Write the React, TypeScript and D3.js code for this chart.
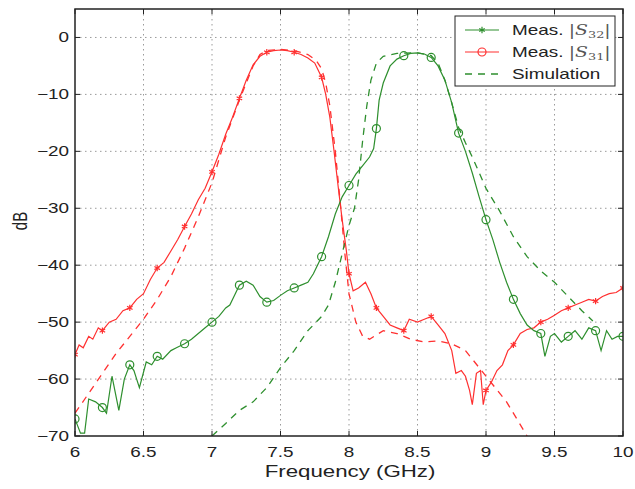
import React from "react";
import * as d3 from "d3";

const xTicks = [6, 6.5, 7, 7.5, 8, 8.5, 9, 9.5, 10];
const yTicks = [0, -10, -20, -30, -40, -50, -60, -70];

const markerFreqs = [6, 6.2, 6.4, 6.6, 6.8, 7, 7.2, 7.4, 7.6, 7.8, 8, 8.2, 8.4, 8.6, 8.8, 9, 9.2, 9.4, 9.6, 9.8, 10];

const s32Freq = [6.0, 6.04, 6.07, 6.1, 6.15, 6.2, 6.23, 6.27, 6.32, 6.36, 6.4, 6.43, 6.47, 6.52, 6.56, 6.6, 6.64, 6.7, 6.74, 6.8, 6.85, 6.9, 6.95, 7.0, 7.05, 7.1, 7.13, 7.17, 7.2, 7.25, 7.3, 7.35, 7.4, 7.45, 7.5, 7.55, 7.6, 7.65, 7.7, 7.74, 7.8, 7.85, 7.9, 7.95, 8.0, 8.05, 8.1, 8.15, 8.18, 8.2, 8.22, 8.25, 8.3, 8.35, 8.4, 8.45, 8.5, 8.55, 8.6, 8.65, 8.7, 8.75, 8.8, 8.85, 8.9, 8.95, 9.0, 9.05, 9.1, 9.15, 9.2, 9.25, 9.3, 9.35, 9.4, 9.43, 9.47, 9.5, 9.55, 9.6, 9.65, 9.7, 9.75, 9.8, 9.84, 9.88, 9.92, 9.96, 10.0];
const s32dB = [-67, -69.5, -69.5, -63.5, -64, -65, -66, -59.5, -65.5, -60, -57.5, -58.5, -61.5, -57, -57.5, -56, -56.5, -55, -54.5, -53.8, -53, -52, -51, -50, -49, -47.5, -47, -45, -43.5, -42.8, -43.5, -45.5, -46.5, -46.2, -45.3, -44.5, -44, -43.5, -43, -41.5, -38.5, -35, -31, -28, -26, -24, -22.5, -21, -19.5, -16, -11, -8, -5, -3.8, -3.2, -2.8, -2.7, -2.9, -3.5, -5, -7.5, -11.5, -16.8, -20, -23.8, -28, -32, -35.5, -39.5, -43, -46, -48.5, -50.5, -51.5, -52, -56, -52.5, -52, -53.5, -52.5, -51.5, -53, -51, -51.5, -55, -51.5, -53, -52.5, -52.5];

const s31Freq = [6.0, 6.03, 6.06, 6.1, 6.13, 6.17, 6.2, 6.25, 6.3, 6.35, 6.4, 6.45, 6.5, 6.55, 6.6, 6.65, 6.7, 6.75, 6.8, 6.85, 6.9, 6.95, 7.0, 7.05, 7.1, 7.15, 7.2, 7.25, 7.3, 7.35, 7.4, 7.45, 7.5, 7.55, 7.6, 7.65, 7.7, 7.75, 7.8, 7.83, 7.86, 7.89, 7.92, 7.95, 7.98, 8.0, 8.03, 8.07, 8.12, 8.16, 8.2, 8.25, 8.3, 8.35, 8.4, 8.44, 8.5, 8.55, 8.6, 8.65, 8.7, 8.75, 8.78, 8.82, 8.85, 8.88, 8.9, 8.93, 8.96, 8.98, 9.0, 9.04, 9.08, 9.12, 9.16, 9.2, 9.25, 9.3, 9.35, 9.4, 9.45, 9.5, 9.55, 9.6, 9.65, 9.7, 9.75, 9.8, 9.85, 9.9, 9.95, 10.0];
const s31dB = [-55.7, -54, -54.5, -52.5, -53, -51, -51.5, -50, -49.5, -48, -47.5, -46, -45, -42.5, -40.5, -39.5, -37.5, -35.5, -33.2, -31, -28.5, -26.5, -23.6, -20.5, -17, -14, -10.7, -7.5, -4.8, -3.3, -2.6, -2.3, -2.2, -2.3, -2.6, -3, -3.6, -4.5, -7, -10, -14, -19.8, -26, -32, -37.3, -41.5, -44.5, -44, -43, -45, -47.5, -49, -50.5, -51, -51.5, -49.5, -50, -49.5, -49, -50.5, -52, -55, -59, -58.5, -59.5, -62, -64.5, -59, -58.5, -64.5, -62, -60.5, -58.5, -57.5, -55, -54, -52, -51.3, -51, -50, -49.5, -48.8, -48, -47.5, -47, -46.5, -46, -46.3, -45.5, -45, -44.8, -44];

const simS31Freq = [6.0, 6.1, 6.2, 6.3, 6.4, 6.5, 6.6, 6.7, 6.8, 6.9, 7.0, 7.1, 7.2, 7.3, 7.35, 7.4, 7.5, 7.6, 7.7, 7.76, 7.8, 7.83, 7.86, 7.9, 7.94, 7.97, 8.0, 8.05, 8.1, 8.15, 8.25, 8.35, 8.45, 8.55, 8.65, 8.75, 8.85, 8.95, 9.05, 9.15, 9.25, 9.3];
const simS31dB = [-66, -62.5, -59, -55.5, -52.5, -49.5, -46, -42, -37, -31.5, -25.5, -17.5, -11, -5, -3, -2.3, -2.1, -2.3, -3, -4, -5.5, -8, -12, -20, -30, -38, -45, -50, -52.5, -53, -51.5, -52, -53, -53.5, -53.3, -53.8, -55, -58, -61, -64, -68, -70];

const simS32Freq = [7.0, 7.1, 7.2, 7.3, 7.4, 7.5, 7.6, 7.7, 7.8, 7.85, 7.9, 7.95, 8.0, 8.04, 8.07, 8.1, 8.13, 8.16, 8.2, 8.25, 8.35, 8.5, 8.6, 8.65, 8.7, 8.75, 8.8, 8.85, 8.9, 9.0, 9.1, 9.2, 9.3, 9.4, 9.5, 9.6, 9.7, 9.78];
const simS32dB = [-70, -67.8, -65.5, -64, -61.5, -58, -55, -51.5, -49, -47, -43, -38, -33, -30, -25, -18, -12, -7.5, -4.5, -3.3, -2.8, -2.7, -3.2, -4.5, -7.5, -11.5, -15.8, -18.5, -21, -26.5, -30.5, -35, -38.5, -41, -43, -45.5, -48, -49.8];

const GREEN = "#2e8f2e";
const RED = "#ff3030";
const FONT = "'Liberation Sans', Arial, Helvetica, sans-serif";
const SX = 1.35; // horizontal stretch of the original figure's text

const W = 635, H = 489;
const L = 75, R = 623, T = 9, B = 436;

function T2(props: { x: number; y: number; anchor?: string; size: number; children: React.ReactNode; fill?: string }) {
  return (
    <text
      transform={`translate(${props.x},${props.y}) scale(${SX},1)`}
      textAnchor={props.anchor || "start"}
      fontSize={props.size}
      fontFamily={FONT}
      fill={props.fill || "#222"}
    >
      {props.children}
    </text>
  );
}

export default function App() {
  const x = d3.scaleLinear().domain([6, 10]).range([L, R]);
  const y = d3.scaleLinear().domain([-70, 5]).range([B, T]);
  const line = d3.line<[number, number]>().x(d => x(d[0])).y(d => y(d[1]));
  const zip = (a: number[], b: number[]) => a.map((v, i) => [v, b[i]] as [number, number]);
  const s32 = zip(s32Freq, s32dB);
  const s31 = zip(s31Freq, s31dB);
  const sim31 = zip(simS31Freq, simS31dB);
  const sim32 = zip(simS32Freq, simS32dB);
  const markersOf = (pts: [number, number][]) =>
    pts.filter(p => markerFreqs.some(m => Math.abs(m - p[0]) < 1e-6));
  const star = d3.symbol().type(d3.symbolAsterisk).size(28)();

  return (
    <svg width={W} height={H} style={{ position: "absolute", left: 0, top: 0 }}>
      <rect x={0} y={0} width={W} height={H} fill="#fff" />
      <defs>
        <clipPath id="clip">
          <rect x={L} y={T} width={R - L} height={B - T} />
        </clipPath>
      </defs>
      {xTicks.slice(1, -1).map(t => (
        <line key={"gx" + t} x1={x(t)} x2={x(t)} y1={T} y2={B} stroke="#9a9a9a" strokeWidth={1} strokeDasharray="1.5,3.5" />
      ))}
      {yTicks.slice(0, -1).map(t => (
        <line key={"gy" + t} x1={L} x2={R} y1={y(t)} y2={y(t)} stroke="#9a9a9a" strokeWidth={1} strokeDasharray="1.5,3.5" />
      ))}
      <g clipPath="url(#clip)">
        <path d={line(sim31) || ""} fill="none" stroke={RED} strokeWidth={1.3} strokeDasharray="7,6" />
        <path d={line(sim32) || ""} fill="none" stroke={GREEN} strokeWidth={1.3} strokeDasharray="7,6" />
        <path d={line(s31) || ""} fill="none" stroke={RED} strokeWidth={1.2} />
        <path d={line(s32) || ""} fill="none" stroke={GREEN} strokeWidth={1.2} />
        {markersOf(s31).map((p, i) => (
          <path key={"m31" + i} d={star || ""} transform={`translate(${x(p[0])},${y(p[1])})`} fill="none" stroke={RED} strokeWidth={1.2} />
        ))}
        {markersOf(s32).map((p, i) => (
          <circle key={"m32" + i} cx={x(p[0])} cy={y(p[1])} r={4} fill="none" stroke={GREEN} strokeWidth={1.2} />
        ))}
      </g>
      <rect x={L} y={T} width={R - L} height={B - T} fill="none" stroke="#222" strokeWidth={1.5} />
      {xTicks.map(t => (
        <g key={"xt" + t}>
          <line x1={x(t)} x2={x(t)} y1={B} y2={B - 5} stroke="#222" />
          <line x1={x(t)} x2={x(t)} y1={T} y2={T + 5} stroke="#222" />
          <T2 x={x(t)} y={457} anchor="middle" size={14}>{t}</T2>
        </g>
      ))}
      {yTicks.map(t => (
        <g key={"yt" + t}>
          <line x1={L} x2={L + 5} y1={y(t)} y2={y(t)} stroke="#222" />
          <line x1={R} x2={R - 5} y1={y(t)} y2={y(t)} stroke="#222" />
          <T2 x={69} y={y(t) + 5} anchor="end" size={14}>{t < 0 ? "\u2212" + Math.abs(t) : String(t)}</T2>
        </g>
      ))}
      <T2 x={350} y={477} anchor="middle" size={16.5}>Frequency (GHz)</T2>
      <text transform="translate(27,221) scale(1.35,1) rotate(-90)" textAnchor="middle" fontSize={15} fontFamily={FONT} fill="#222">dB</text>
      <g>
        <rect x={455} y={16} width={160} height={70} fill="#fff" stroke="#222" strokeWidth={1} />
        <line x1={465} x2={499} y1={30} y2={30} stroke={GREEN} strokeWidth={1.2} />
        <path d={star || ""} transform="translate(482,30)" fill="none" stroke={GREEN} strokeWidth={1.2} />
        <line x1={465} x2={499} y1={52} y2={52} stroke={RED} strokeWidth={1.2} />
        <circle cx={482} cy={52} r={4} fill="none" stroke={RED} strokeWidth={1.2} />
        <line x1={465} x2={499} y1={74} y2={74} stroke={GREEN} strokeWidth={1.3} strokeDasharray="7,6" />
        {([["32", 35], ["31", 57]] as [string, number][]).map(([sub, yy]) => (
          <text key={"lg" + sub} transform={`translate(512,${yy}) scale(${SX},1)`} fontSize={14} fontFamily={FONT} fill="#222">
            Meas.{" "}
            <tspan fontFamily="'DejaVu Serif', serif" fill="#555">|</tspan>
            <tspan fontFamily="'DejaVu Serif', serif" fontStyle="italic" fill="#555">S</tspan>
            <tspan fontFamily="'DejaVu Serif', serif" fontSize={9.5} dy={3} fill="#555">{sub}</tspan>
            <tspan fontFamily="'DejaVu Serif', serif" dy={-3} fill="#555">|</tspan>
          </text>
        ))}
        <T2 x={512} y={79} size={14}>Simulation</T2>
      </g>
    </svg>
  );
}
